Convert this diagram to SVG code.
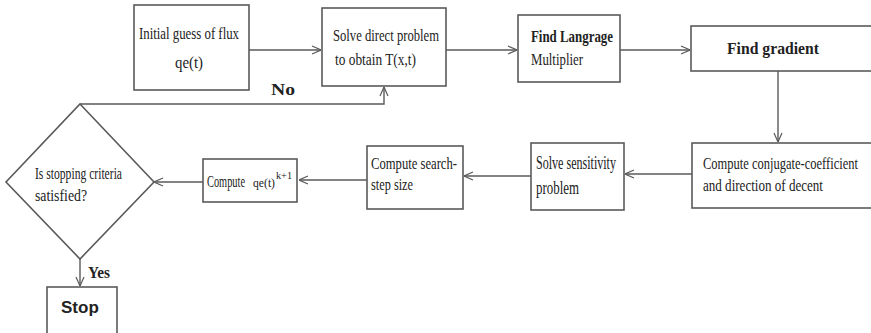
<svg xmlns="http://www.w3.org/2000/svg" width="871" height="333" viewBox="0 0 871 333">
  <defs>
    <marker id="arrow" viewBox="0 0 10 10" refX="10" refY="5" markerWidth="10" markerHeight="10" markerUnits="userSpaceOnUse" orient="auto">
      <path d="M1,1 L10,5 L1,9" fill="none" stroke="#5a5a5a" stroke-width="1.2"/>
    </marker>
  </defs>
  <style>
    .box { fill: #ffffff; stroke: #5a5a5a; stroke-width: 1.6; }
    .link { fill: none; stroke: #5a5a5a; stroke-width: 1.4; }
    .t { font-family: "Liberation Serif", "Times New Roman", serif; font-size: 17px; fill: #222222; }
    .b { font-family: "Liberation Serif", "Times New Roman", serif; font-size: 16px; font-weight: bold; fill: #222222; }
    .s { font-family: "Liberation Sans", Arial, sans-serif; font-size: 17px; font-weight: bold; fill: #222222; }
  </style>
  <rect width="871" height="333" fill="#ffffff"/>

  <!-- connectors -->
  <g id="connectors">
    <line class="link" x1="249" y1="50" x2="321" y2="50" marker-end="url(#arrow)"/>
    <line class="link" x1="446" y1="50" x2="517" y2="50" marker-end="url(#arrow)"/>
    <line class="link" x1="620" y1="50" x2="690" y2="50" marker-end="url(#arrow)"/>
    <line class="link" x1="778" y1="71" x2="778" y2="142" marker-end="url(#arrow)"/>
    <line class="link" x1="692" y1="174" x2="625" y2="174" marker-end="url(#arrow)"/>
    <line class="link" x1="531" y1="176" x2="464" y2="176" marker-end="url(#arrow)"/>
    <line class="link" x1="367" y1="180" x2="299" y2="180" marker-end="url(#arrow)"/>
    <line class="link" x1="203" y1="182" x2="154" y2="182" marker-end="url(#arrow)"/>
    <polyline class="link" points="80,104 384,104 384,87" marker-end="url(#arrow)"/>
    <line class="link" x1="80" y1="259" x2="80" y2="286" marker-end="url(#arrow)"/>
    <text class="b" x="271" y="95" textLength="24" lengthAdjust="spacingAndGlyphs">No</text>
    <text class="b" x="88" y="278" textLength="22" lengthAdjust="spacingAndGlyphs">Yes</text>
  </g>

  <g id="initial-guess">
    <rect class="box" x="134" y="5" width="115" height="85"/>
    <text class="t" x="139" y="39" textLength="100" lengthAdjust="spacingAndGlyphs">Initial guess of flux</text>
    <text class="t" x="175" y="68" textLength="28" lengthAdjust="spacingAndGlyphs">qe(t)</text>
  </g>

  <g id="solve-direct">
    <rect class="box" x="322" y="8" width="124" height="78"/>
    <text class="t" x="333" y="41" textLength="106" lengthAdjust="spacingAndGlyphs">Solve direct problem</text>
    <text class="t" x="335" y="65" textLength="81" lengthAdjust="spacingAndGlyphs">to obtain T(x,t)</text>
  </g>

  <g id="lagrange">
    <rect class="box" x="518" y="15" width="102" height="67"/>
    <text class="b" x="531" y="42" textLength="82" lengthAdjust="spacingAndGlyphs">Find Langrage</text>
    <text class="t" x="531" y="65" textLength="52" lengthAdjust="spacingAndGlyphs">Multiplier</text>
  </g>

  <g id="gradient">
    <rect class="box" x="691" y="26" width="190" height="45"/>
    <text class="b" x="727" y="54" textLength="92" lengthAdjust="spacingAndGlyphs">Find gradient</text>
  </g>

  <g id="conjugate">
    <rect class="box" x="692" y="143" width="190" height="65"/>
    <text class="t" x="703" y="169" textLength="155" lengthAdjust="spacingAndGlyphs">Compute conjugate-coefficient</text>
    <text class="t" x="703" y="191" textLength="120" lengthAdjust="spacingAndGlyphs">and direction of  decent</text>
  </g>

  <g id="sensitivity">
    <rect class="box" x="531" y="143" width="93" height="67"/>
    <text class="t" x="536" y="169" textLength="80" lengthAdjust="spacingAndGlyphs" style="font-size:18px">Solve sensitivity</text>
    <text class="t" x="536" y="194" textLength="43" lengthAdjust="spacingAndGlyphs" style="font-size:18px">problem</text>
  </g>

  <g id="search-step">
    <rect class="box" x="367" y="146" width="96" height="63"/>
    <text class="t" x="371" y="169" textLength="86" lengthAdjust="spacingAndGlyphs">Compute search-</text>
    <text class="t" x="371" y="190" textLength="42" lengthAdjust="spacingAndGlyphs">step size</text>
  </g>

  <g id="update-flux">
    <rect class="box" x="203" y="159" width="94" height="43"/>
    <text class="t" x="207" y="187">
      <tspan textLength="38" lengthAdjust="spacingAndGlyphs">Compute</tspan>
      <tspan x="253" style="font-size:13px" textLength="22" lengthAdjust="spacingAndGlyphs">qe(t)</tspan>
      <tspan x="276" dy="-8" style="font-size:10px" textLength="16" lengthAdjust="spacingAndGlyphs">k+1</tspan>
    </text>
  </g>

  <g id="stopping-check">
    <polygon class="box" points="80,104 154,182 80,259 6,182"/>
    <text class="t" x="35" y="179" textLength="87" lengthAdjust="spacingAndGlyphs">Is stopping criteria</text>
    <text class="t" x="35" y="201" textLength="52" lengthAdjust="spacingAndGlyphs">satisfied?</text>
  </g>

  <g id="stop">
    <rect class="box" x="47" y="287" width="70" height="60"/>
    <text class="s" x="61" y="313">Stop</text>
  </g>
</svg>
